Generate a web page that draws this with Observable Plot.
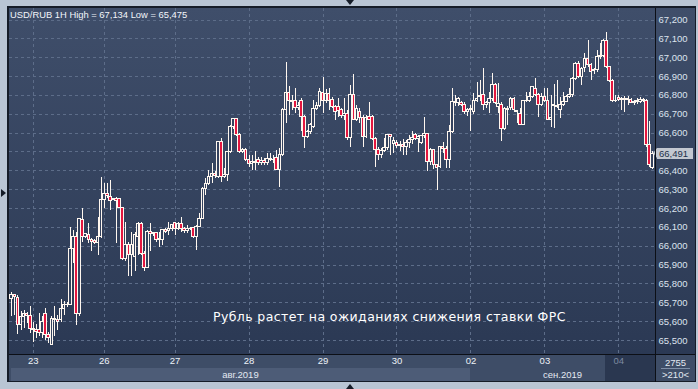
<!DOCTYPE html>
<html><head><meta charset="utf-8">
<script src="https://cdn.jsdelivr.net/npm/d3@7"></script>
<script src="https://cdn.jsdelivr.net/npm/@observablehq/plot@0.6"></script>
<style>
html,body{margin:0;padding:0;}
body{width:698px;height:389px;background:#b9c5d4;position:relative;overflow:hidden;font-family:"Liberation Sans",Arial,sans-serif;}
.abs{position:absolute;}
#frame{left:7px;top:6px;width:689px;height:376px;background:#151c28;}
#plotbg{left:9px;top:8px;width:646px;height:346px;background:linear-gradient(#3f4e6a,#2b3954);}
#axisbg{left:656px;top:8px;width:39px;height:346px;background:linear-gradient(#3f4e6a,#2b3954);}
#daybg{left:9px;top:355px;width:596px;height:26px;background:#3e4d67;}
#curday{left:605px;top:355px;width:50px;height:26px;background:#2a3750;}
#aug{left:11px;top:368px;width:459px;height:13px;background:#4d5c77;}
.month{color:#e3e9f2;font-size:9.5px;line-height:13px;text-align:center;}
#brbox{left:656px;top:355px;width:39px;height:26px;background:#3e4d67;color:#e3e9f2;font-size:9.5px;text-align:center;}
#title{left:10px;top:9px;color:#f2f5fa;font-size:9.4px;white-space:nowrap;}
#note{left:213px;top:309px;color:#ffffff;font-family:"DejaVu Sans",sans-serif;font-size:12.5px;letter-spacing:0.4px;white-space:nowrap;}
.tri{width:0;height:0;position:absolute;}
#chart{left:0;top:0;}
#price{left:657px;width:36px;height:11px;background:#c3c8d1;color:#22304a;font-size:9.5px;line-height:11px;padding-left:2px;box-sizing:border-box;}
#price:before{content:"";position:absolute;left:-4px;top:0;border-top:5.5px solid transparent;border-bottom:5.5px solid transparent;border-right:4px solid #c3c8d1;}
</style></head>
<body>
<div id="frame" class="abs"></div>
<div id="plotbg" class="abs"></div>
<div id="axisbg" class="abs"></div>
<div id="daybg" class="abs"></div>
<div id="curday" class="abs"></div>
<div id="aug" class="abs month">авг.2019</div>
<div class="abs month" style="left:470px;top:368px;width:185px;height:13px;">сен.2019</div>
<div id="brbox" class="abs"><div style="margin-top:2px;line-height:11px;">2755</div><div style="margin:0 5px;border-top:1px solid #8090a8;line-height:11px;">&gt;210&lt;</div></div>
<div class="tri" style="left:346px;top:0;border-left:4.5px solid transparent;border-right:4.5px solid transparent;border-top:5px solid #151c28;"></div>
<div class="tri" style="left:346px;top:384px;border-left:4.5px solid transparent;border-right:4.5px solid transparent;border-bottom:5px solid #151c28;"></div>
<div class="tri" style="left:1px;top:189px;border-top:4.5px solid transparent;border-bottom:4.5px solid transparent;border-left:5px solid #151c28;"></div>
<div id="chart" class="abs"></div>
<div id="title" class="abs">USD/RUB 1H High = 67,134 Low = 65,475</div>
<div id="note" class="abs">Рубль растет на ожиданиях снижения ставки ФРС</div>
<div id="price" class="abs"></div>
<script>
// ---- data (hourly candles, USD/RUB) ----
const opens = [65722,65740,65728,65581,65625,65638,65630,65560,65555,65554,65540,65640,65530,65478,65616,65608,65608,65669,65687,65690,65987,66049,65643,66140,66049,66061,66031,66027,66019,66049,66244,66279,66261,66249,66249,66249,66203,65934,66005,65952,65944,66049,66120,65961,65885,66075,66066,66070,66031,66035,66084,66080,66093,66123,66093,66118,66093,66080,66093,66097,66049,66102,66146,66305,66332,66367,66385,66367,66553,66367,
66376,66500,66632,66676,66588,66500,66512,66455,66435,66445,66455,66443,66450,66440,66464,66458,66468,66405,66482,66720,66815,66770,66768,66735,66773,66685,66579,66606,66635,66729,66745,66815,66773,66809,66775,66740,66740,66720,66690,66700,66575,66800,66670,66712,66680,66582,66685,66685,66570,66508,66485,66505,66520,66588,66540,66545,66530,66535,66525,66545,66561,66588,66570,66550,66585,66595,66447,66508,66429,66420,66526,
66518,66455,66606,66765,66760,66760,66750,66712,66720,66712,66773,66791,66800,66747,66762,66782,66853,66740,66750,66623,66729,66735,66782,66712,66703,66645,66768,66770,66791,66835,66800,66747,66791,66773,66670,66750,66745,66720,66747,66765,66791,66800,66888,66968,66897,66945,66994,66959,66930,66935,67003,67010,67091,66950,66879,66773,66785,66778,66782,66775,66778,66765,66768,66765,66775,66768,66535,66413];
const highs = [65757,65745,65740,65652,65660,65650,65680,65598,65585,65643,65625,65670,65545,65625,65680,65635,65718,65705,65700,66102,66084,66075,66146,66200,66070,66120,66040,66035,66155,66367,66332,66332,66350,66255,66261,66252,66208,66128,66022,66075,66075,66128,66128,65970,66084,66120,66075,66075,66075,66084,66093,66128,66115,66128,66125,66155,66100,66110,66100,66102,66110,66172,66314,66358,66402,66438,66395,66553,66570,66410,
66500,66641,66676,66680,66600,66520,66520,66482,66482,66500,66470,66473,66468,66491,66490,66482,66508,66517,66729,66977,66845,66800,66835,66760,66782,66694,66612,66650,66773,66760,66835,66897,66830,66835,66790,66747,66782,66730,66782,66720,66853,66910,66747,66730,66694,66694,66760,66694,66575,66526,66517,66570,66590,66595,66575,66560,66555,66565,66561,66588,66606,66600,66590,66590,66685,66600,66517,66515,66430,66530,66550,
66530,66641,66835,66800,66791,66770,66760,66730,66747,66810,66870,66879,66941,66770,66818,66915,66862,66862,66760,66738,66740,66791,66790,66720,66729,66773,66818,66818,66844,66888,66810,66810,66835,66835,66800,66860,66880,66791,66818,66800,66835,66897,66977,66980,66950,67020,67091,66970,66941,67038,67075,67095,67134,66955,66885,66800,66800,66790,66795,66795,66785,66775,66782,66791,66782,66780,66660,66500];
const lows = [65625,65630,65532,65555,65565,65590,65535,65492,65510,65520,65510,65500,65483,65475,65520,65555,65598,65635,65675,65685,65910,65581,65625,66022,66040,66015,65970,66010,65952,66040,66200,66255,66190,66240,66015,66200,65925,65917,65837,65840,65865,65952,65952,65864,65880,65970,66050,66020,65995,66005,66070,66058,66080,66058,66085,66075,66070,66065,66085,66040,65980,66100,66140,66270,66320,66332,66360,66358,66340,66358,
66341,66490,66620,66580,66490,66490,66450,66420,66402,66402,66430,66429,66430,66429,66450,66440,66402,66309,66478,66650,66694,66720,66703,66720,66606,66520,66570,66595,66625,66720,66738,66703,66755,66720,66730,66668,66685,66676,66668,66561,66526,66670,66660,66650,66526,66570,66665,66561,66420,66455,66464,66495,66510,66482,66490,66520,66500,66480,66480,66520,66540,66560,66495,66540,66570,66395,66429,66405,66296,66410,66490,
66411,66411,66597,66740,66740,66740,66700,66690,66606,66700,66765,66770,66720,66730,66703,66770,66750,66703,66553,66615,66641,66720,66712,66650,66641,66640,66760,66760,66785,66795,66685,66740,66765,66665,66630,66623,66730,66676,66740,66760,66785,66790,66880,66890,66853,66920,66950,66880,66910,66920,66990,67000,66941,66870,66765,66760,66770,66720,66712,66747,66755,66747,66750,66755,66760,66525,66420,66405];
const closes = [65740,65730,65581,65625,65638,65630,65560,65555,65545,65540,65598,65528,65515,65616,65608,65598,65669,65687,65690,65987,66049,65643,66146,66049,66066,66031,66022,66019,66049,66244,66279,66265,66238,66245,66238,66203,65934,66005,65952,66005,66058,66120,65961,65885,66075,66066,66070,66031,66040,66084,66078,66093,66110,66093,66118,66093,66080,66093,66090,66049,66102,66146,66305,66332,66367,66385,66370,66553,66367,66376,
66500,66632,66676,66588,66500,66510,66455,66435,66445,66440,66443,66450,66440,66464,66458,66460,66405,66482,66720,66815,66770,66765,66735,66742,66685,66579,66606,66641,66729,66745,66818,66773,66809,66773,66740,66712,66715,66690,66703,66575,66800,66670,66729,66680,66582,66680,66670,66570,66508,66485,66505,66520,66588,66580,66560,66530,66535,66525,66545,66561,66575,66570,66580,66585,66595,66447,66508,66429,66415,66526,66515,
66455,66606,66765,66760,66780,66750,66712,66720,66729,66773,66782,66795,66747,66762,66782,66853,66760,66755,66623,66729,66725,66782,66720,66715,66645,66773,66770,66791,66844,66800,66747,66791,66773,66670,66680,66745,66740,66747,66765,66791,66800,66888,66968,66897,66941,66994,66960,66924,66935,67003,67010,67091,66950,66879,66773,66770,66778,66782,66778,66780,66760,66760,66765,66775,66768,66535,66430,66491];
const yTicks = [65500,65600,65700,65800,65900,66000,66100,66200,66300,66400,66500,66600,66700,66800,66900,67000,67100,67200];
const dayIdx = [7,30,53,77,101,125,149,173,197];
const dayLabels = ["23","26","27","28","29","30","02","03","04"];
const lastPrice = 66491;

const candles = opens.map((o, i) => ({i, open: o, high: highs[i], low: lows[i], close: closes[i]}));
const days = dayIdx.map((d, k) => ({i: d, label: dayLabels[k], color: dayLabels[k] === "04" ? "#7d8aa0" : "#eef2f8"}));
const N = candles.length;
const wick = "#fff7ef";
// the price tag covers the 66,500 label in the reference
const yLabelTicks = yTicks.filter(t => t !== 66500);

const chart = Plot.plot({
  width: 698, height: 389,
  marginLeft: 9, marginRight: 43, marginTop: 8, marginBottom: 35,
  style: {background: "transparent", fontFamily: "'Liberation Sans', Arial, sans-serif", fontSize: "9.5px", overflow: "visible"},
  x: {type: "band", domain: d3.range(N), range: [9.5, 654], padding: 0.15, round: false, axis: null},
  y: {domain: [65500, 67200], range: [340, 19.5], axis: null},
  marks: [
    Plot.ruleY(yTicks, {stroke: "#5d6d89", strokeDasharray: "3,3", strokeWidth: 1, shapeRendering: "crispEdges"}),
    Plot.ruleX(days, {x: "i", stroke: "#5d6d89", strokeDasharray: "3,3", strokeWidth: 1, shapeRendering: "crispEdges"}),
    Plot.ruleX(candles, {x: "i", y1: "low", y2: "high", stroke: wick, strokeWidth: 1, shapeRendering: "crispEdges"}),
    Plot.barY(candles, {x: "i", y1: "open", y2: "close", fill: d => d.close < d.open ? "#e4163f" : "#34425e", stroke: wick, strokeWidth: 1, shapeRendering: "crispEdges"}),
    Plot.axisY(yLabelTicks, {anchor: "right", tickSize: 0, tickPadding: 3, tickFormat: d3.format(","), fill: "#dde3ee", fontSize: 9.5}),
    Plot.text(days, {x: "i", text: "label", frameAnchor: "bottom", dy: 9, fill: "color", fontSize: 9.5})
  ]
});
document.getElementById("chart").appendChild(chart);

// price tag positioned through the y scale
const py = chart.scale("y").apply(lastPrice);
const price = document.getElementById("price");
price.textContent = d3.format(",")(lastPrice);
price.style.top = (py - 5.5) + "px";
</script>
<div class="abs" style="left:655px;top:8px;width:1px;height:374px;background:#0c0f16;"></div>
<div class="abs" style="left:9px;top:354px;width:686px;height:1px;background:#0c0f16;"></div>
</body></html>
